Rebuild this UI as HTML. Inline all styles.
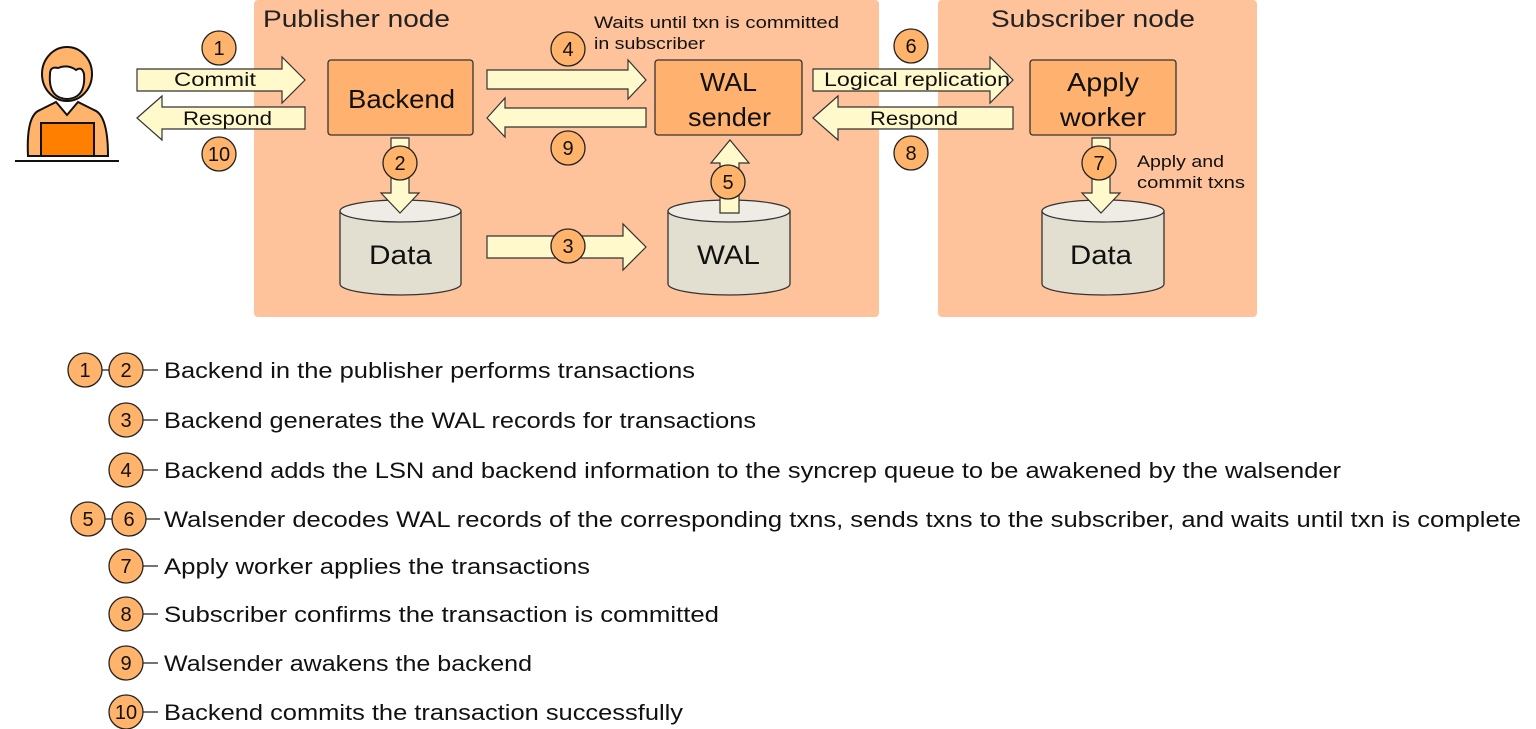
<!DOCTYPE html>
<html><head><meta charset="utf-8"><style>
html,body{margin:0;padding:0;background:#fff;}
svg{display:block;font-family:"Liberation Sans",sans-serif;}
</style></head><body>
<svg width="1536" height="729" viewBox="0 0 1536 729" xmlns="http://www.w3.org/2000/svg">
<defs>
<g id="c"><circle r="17" fill="#FFB36B" stroke="#222" stroke-width="1.3"/></g>
</defs>
<rect x="254" y="0" width="625" height="317" rx="4" fill="#FFC39B"/>
<rect x="938" y="0" width="319" height="317" rx="4" fill="#FFC39B"/>
<text x="263" y="27" font-size="24" fill="#222" textLength="187" lengthAdjust="spacingAndGlyphs">Publisher node</text>
<text x="991" y="27" font-size="24" fill="#222" textLength="204" lengthAdjust="spacingAndGlyphs">Subscriber node</text>

<!-- person -->
<g stroke="#111" stroke-width="2">
<path d="M28,156 Q26,115 40,110 L56,102 L67,115 L78,102 L94,110 Q108,115 108,156 Z" fill="#FFB36B"/>
<ellipse cx="67" cy="74" rx="25" ry="27" fill="#FFB36B"/>
<path d="M50,74 Q48,98 67,99 Q86,98 84,74 Q82,66 76,70 Q68,64 58,68 Q50,66 50,74Z" fill="#fff"/>
<rect x="41" y="123" width="53" height="33" fill="#FF8000"/>
<line x1="15" y1="161" x2="119" y2="161"/>
</g>

<!-- arrows -->
<g fill="#FFF9CC" stroke="#333" stroke-width="1.2">
<path d="M137,69 H282 V57 L305,80 L282,103 V91 H137Z"/>
<path d="M137,118 L162,96 V107 H305 V129 H162 V140Z"/>
<path d="M487,70 H628 V60 L646,80 L628,99 V89 H487Z"/>
<path d="M487,118 L505,98 V108 H646 V127 H505 V137Z"/>
<path d="M813,69 H990 V57 L1013,80 L990,103 V91 H813Z"/>
<path d="M813,118 L838,96 V107 H1013 V129 H838 V140Z"/>
<path d="M487,236 H623 V224 L646,247 L623,270 V258 H487Z"/>
</g>

<!-- boxes -->
<g fill="#FFB26F" stroke="#333" stroke-width="1.3">
<rect x="328" y="60" width="145" height="75" rx="3"/>
<rect x="655" y="60" width="147" height="75" rx="3"/>
<rect x="1030" y="60" width="146" height="75" rx="3"/>
</g>
<g font-size="26" fill="#111">
<text x="348" y="108" textLength="107" lengthAdjust="spacingAndGlyphs">Backend</text>
<text x="700" y="91" textLength="57" lengthAdjust="spacingAndGlyphs">WAL</text>
<text x="688" y="126" textLength="83" lengthAdjust="spacingAndGlyphs">sender</text>
<text x="1067" y="91" textLength="72" lengthAdjust="spacingAndGlyphs">Apply</text>
<text x="1060" y="126" textLength="86" lengthAdjust="spacingAndGlyphs">worker</text>
</g>

<!-- cylinders -->
<g stroke="#333" stroke-width="1.3">
<path d="M340,211 V284 A60.5,11 0 0 0 461,284 V211" fill="#E3DFD0"/>
<ellipse cx="400.5" cy="211" rx="60.5" ry="11" fill="#EEECE4"/>
<path d="M668,211 V284 A61,11 0 0 0 790,284 V211" fill="#E3DFD0"/>
<ellipse cx="729" cy="211" rx="61" ry="11" fill="#EEECE4"/>
<path d="M1042,211 V284 A61,11 0 0 0 1164,284 V211" fill="#E3DFD0"/>
<ellipse cx="1103" cy="211" rx="61" ry="11" fill="#EEECE4"/>
</g>
<g font-size="27" fill="#111">
<text x="369" y="264" textLength="63" lengthAdjust="spacingAndGlyphs">Data</text>
<text x="697" y="264" textLength="63" lengthAdjust="spacingAndGlyphs">WAL</text>
<text x="1070" y="264" textLength="62" lengthAdjust="spacingAndGlyphs">Data</text>
</g>

<!-- vertical arrows -->
<g fill="#FFF9CC" stroke="#333" stroke-width="1.2">
<path d="M391,138 H409 V193 H419 L400,213 L381,193 H391Z"/>
<path d="M1092,138 H1110 V193 H1120 L1101,213 L1082,193 H1092Z"/>
<path d="M720,213 V163 H711 L730,140 L749,163 H739 V213Z"/>
</g>

<!-- labels -->
<g font-size="19" fill="#111">
<text x="174" y="86" textLength="82" lengthAdjust="spacingAndGlyphs">Commit</text>
<text x="183" y="125" textLength="89" lengthAdjust="spacingAndGlyphs">Respond</text>
<text x="824" y="86" textLength="186" lengthAdjust="spacingAndGlyphs">Logical replication</text>
<text x="870" y="125" textLength="88" lengthAdjust="spacingAndGlyphs">Respond</text>
</g>
<g font-size="17" fill="#111">
<text x="594" y="28" textLength="245" lengthAdjust="spacingAndGlyphs">Waits until txn is committed</text>
<text x="594" y="49" textLength="111" lengthAdjust="spacingAndGlyphs">in subscriber</text>
<text x="1137" y="167" textLength="87" lengthAdjust="spacingAndGlyphs">Apply and</text>
<text x="1137" y="188" textLength="108" lengthAdjust="spacingAndGlyphs">commit txns</text>
</g>

<!-- number circles -->
<g font-size="20" fill="#111" text-anchor="middle">
<use href="#c" x="219" y="48"/><text x="219" y="55">1</text>
<use href="#c" x="219" y="154"/><text x="219" y="161">10</text>
<use href="#c" x="400" y="163"/><text x="400" y="170">2</text>
<use href="#c" x="568" y="49"/><text x="568" y="56">4</text>
<use href="#c" x="568" y="148"/><text x="568" y="155">9</text>
<use href="#c" x="728" y="182"/><text x="728" y="189">5</text>
<use href="#c" x="568" y="246"/><text x="568" y="253">3</text>
<use href="#c" x="911" y="46"/><text x="911" y="53">6</text>
<use href="#c" x="911" y="153"/><text x="911" y="160">8</text>
<use href="#c" x="1099" y="163"/><text x="1099" y="170">7</text>
</g>

<!-- legend -->
<g stroke="#222" stroke-width="1.3">
<line x1="100" y1="370" x2="158" y2="370"/>
<line x1="140" y1="420" x2="158" y2="420"/>
<line x1="140" y1="470" x2="158" y2="470"/>
<line x1="103" y1="519" x2="160" y2="519"/>
<line x1="140" y1="566" x2="158" y2="566"/>
<line x1="140" y1="614" x2="158" y2="614"/>
<line x1="140" y1="663" x2="158" y2="663"/>
<line x1="140" y1="712" x2="158" y2="712"/>
</g>
<g font-size="20" fill="#111" text-anchor="middle">
<use href="#c" x="85" y="370"/><text x="85" y="377">1</text>
<use href="#c" x="126" y="370"/><text x="126" y="377">2</text>
<use href="#c" x="126" y="420"/><text x="126" y="427">3</text>
<use href="#c" x="126" y="470"/><text x="126" y="477">4</text>
<use href="#c" x="88" y="519"/><text x="88" y="526">5</text>
<use href="#c" x="129" y="519"/><text x="129" y="526">6</text>
<use href="#c" x="126" y="566"/><text x="126" y="573">7</text>
<use href="#c" x="126" y="614"/><text x="126" y="621">8</text>
<use href="#c" x="126" y="663"/><text x="126" y="670">9</text>
<use href="#c" x="126" y="712"/><text x="126" y="719">10</text>
</g>
<g font-size="22" fill="#111">
<text x="164" y="378" textLength="531" lengthAdjust="spacingAndGlyphs">Backend in the publisher performs transactions</text>
<text x="164" y="428" textLength="592" lengthAdjust="spacingAndGlyphs">Backend generates the WAL records for transactions</text>
<text x="164" y="478" textLength="1177" lengthAdjust="spacingAndGlyphs">Backend adds the LSN and backend information to the  syncrep queue to be awakened by the walsender</text>
<text x="164" y="527" textLength="1357" lengthAdjust="spacingAndGlyphs">Walsender decodes WAL records of the corresponding  txns, sends txns  to the subscriber, and waits until  txn is complete</text>
<text x="164" y="574" textLength="426" lengthAdjust="spacingAndGlyphs">Apply worker applies  the transactions</text>
<text x="164" y="622" textLength="555" lengthAdjust="spacingAndGlyphs">Subscriber confirms the transaction is committed</text>
<text x="164" y="671" textLength="368" lengthAdjust="spacingAndGlyphs">Walsender awakens the backend</text>
<text x="164" y="720" textLength="519" lengthAdjust="spacingAndGlyphs">Backend commits the transaction successfully</text>
</g>
</svg>
</body></html>
